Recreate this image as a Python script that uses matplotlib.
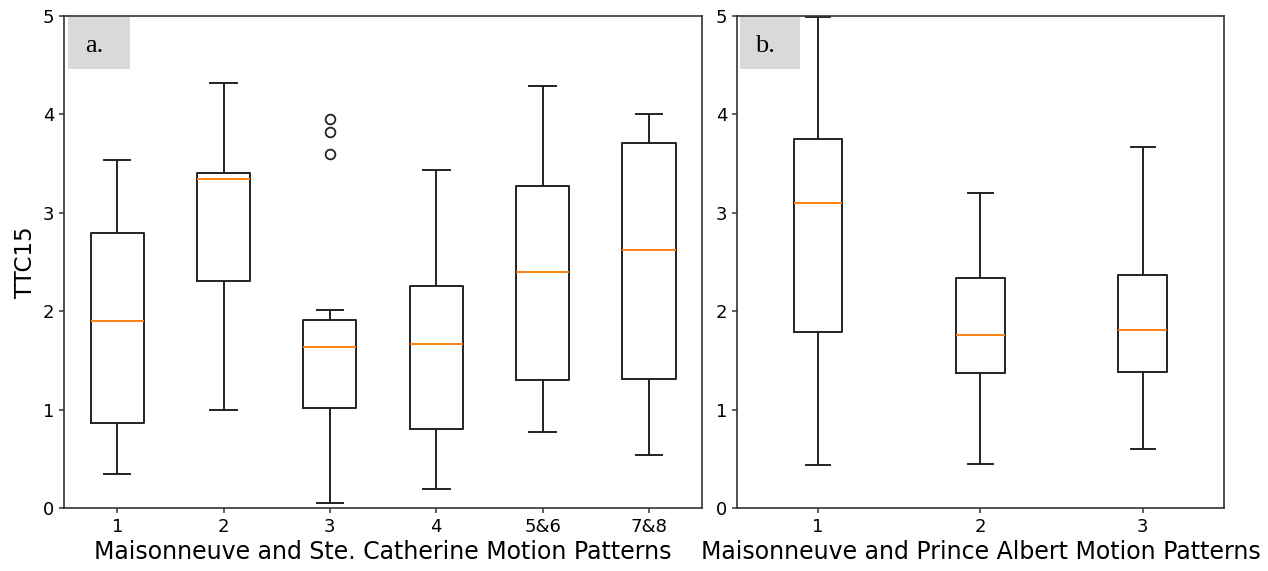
import matplotlib
import matplotlib.pyplot as plt
from matplotlib.patches import Rectangle

matplotlib.use("Agg")

# Panel a: Maisonneuve and Ste. Catherine
labels_a = ["1", "2", "3", "4", "5&6", "7&8"]
whislo_a = [0.35, 1.00, 0.05, 0.19, 0.77, 0.54]
q1_a = [0.86, 2.31, 1.02, 0.80, 1.30, 1.31]
med_a = [1.90, 3.34, 1.64, 1.67, 2.40, 2.62]
q3_a = [2.80, 3.40, 1.91, 2.26, 3.27, 3.71]
whishi_a = [3.54, 4.32, 2.01, 3.44, 4.29, 4.00]
fliers_a = [[], [], [3.95, 3.82, 3.60], [], [], []]

# Panel b: Maisonneuve and Prince Albert
labels_b = ["1", "2", "3"]
whislo_b = [0.44, 0.45, 0.60]
q1_b = [1.79, 1.37, 1.38]
med_b = [3.10, 1.76, 1.81]
q3_b = [3.75, 2.34, 2.37]
whishi_b = [4.99, 3.20, 3.67]
fliers_b = [[], [], []]


def make_stats(labels, lo, q1, med, q3, hi, fl):
    return [
        dict(label=l, whislo=a, q1=b, med=c, q3=d, whishi=e, fliers=f)
        for l, a, b, c, d, e, f in zip(labels, lo, q1, med, q3, hi, fl)
    ]


def panel_tag(ax, text, x1):
    ax.add_patch(Rectangle((0.006, 0.892), x1 - 0.006, 0.106, transform=ax.transAxes,
                           facecolor="#d9d9d9", edgecolor="none", zorder=1))
    ax.text(0.006 + (x1 - 0.006) * 0.42, 0.94, text, transform=ax.transAxes,
            ha="center", va="center", fontsize=19, family="Liberation Serif", zorder=2)


lw = 1.4
style = dict(
    boxprops=dict(linewidth=lw, color="#222222"),
    whiskerprops=dict(linewidth=lw, color="#222222"),
    capprops=dict(linewidth=lw, color="#222222"),
    medianprops=dict(linewidth=lw, color="#ff7f0e"),
    flierprops=dict(marker="o", markersize=7, markerfacecolor="none",
                    markeredgecolor="#222222", markeredgewidth=1.3),
)

fig = plt.figure(figsize=(12.68, 5.71), dpi=100)
ax1 = fig.add_axes([0.0505, 0.1103, 0.5032, 0.8616])
ax2 = fig.add_axes([0.5812, 0.1103, 0.3841, 0.8616])

ax1.bxp(make_stats(labels_a, whislo_a, q1_a, med_a, q3_a, whishi_a, fliers_a), **style)
ax2.bxp(make_stats(labels_b, whislo_b, q1_b, med_b, q3_b, whishi_b, fliers_b), **style)

for ax in (ax1, ax2):
    ax.set_ylim(0, 5)
    ax.set_yticks([0, 1, 2, 3, 4, 5])
    ax.tick_params(labelsize=13, width=1.1, color="#333333")
    for sp in ax.spines.values():
        sp.set_linewidth(1.2)
        sp.set_color("#333333")

ax1.set_ylabel("TTC15", fontsize=16.5)
ax1.set_xlabel("Maisonneuve and Ste. Catherine Motion Patterns", fontsize=17, labelpad=3)
ax2.set_xlabel("Maisonneuve and Prince Albert Motion Patterns", fontsize=17, labelpad=3)

panel_tag(ax1, "a.", 0.1034)
panel_tag(ax2, "b.", 0.129)

fig.savefig("out.png", dpi=100)
plt.close(fig)
